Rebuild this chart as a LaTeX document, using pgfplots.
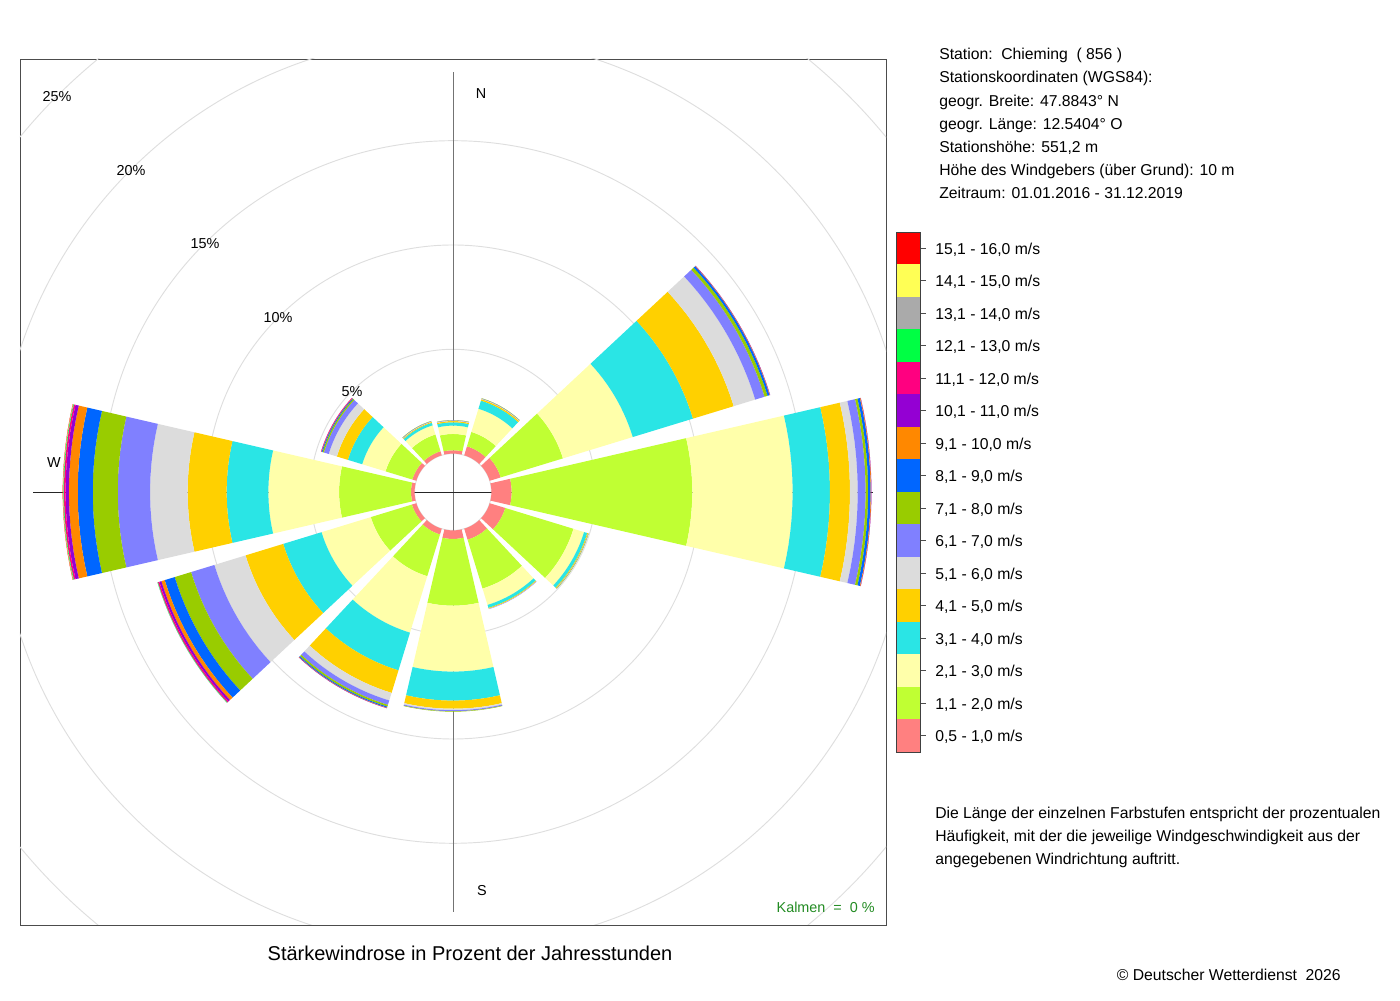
\documentclass[border=0pt]{standalone}
\usepackage{fontspec}
\setmainfont{Liberation Sans}
\usepackage{pgfplots}
\usepackage{pgfplotstable}
\pgfplotsset{compat=1.18}

\definecolor{wc1}{HTML}{FF8080}
\definecolor{wc2}{HTML}{C0FF33}
\definecolor{wc3}{HTML}{FFFFAA}
\definecolor{wc4}{HTML}{2AE5E5}
\definecolor{wc5}{HTML}{FFD000}
\definecolor{wc6}{HTML}{DCDCDC}
\definecolor{wc7}{HTML}{8080FF}
\definecolor{wc8}{HTML}{99CC00}
\definecolor{wc9}{HTML}{0066FF}
\definecolor{wc10}{HTML}{FF8800}
\definecolor{wc11}{HTML}{9400D3}
\definecolor{wc12}{HTML}{FF0080}
\definecolor{wc13}{HTML}{00FF44}
\definecolor{wc14}{HTML}{AAAAAA}
\definecolor{wc15}{HTML}{FFFF55}
\definecolor{wc16}{HTML}{FF0000}
\definecolor{kalm}{HTML}{228B22}

% percent of hours per direction (rows) and speed class (columns b1 = 0,5-1,0 m/s ... b16 = 15,1-16,0 m/s)
\pgfplotstableread{
dir b1 b2 b3 b4 b5 b6 b7 b8 b9 b10 b11 b12 b13 b14 b15 b16
0   0.16 0.78 0.40 0.16 0.06 0.02 0.02 0.01 0 0 0 0 0 0 0 0
30  0.45 0.72 1.16 0.41 0.07 0.02 0.02 0.01 0 0 0 0 0 0 0 0
60  0.55 3.12 3.50 3.02 2.04 1.08 0.47 0.15 0.10 0.02 0.01 0 0 0 0 0
90  0.97 8.66 4.81 1.79 0.96 0.37 0.38 0.12 0.12 0.03 0.01 0 0 0 0 0
120 0.78 3.42 0.53 0.16 0.04 0.01 0.01 0.01 0 0 0 0 0 0 0 0
150 0.55 2.45 0.82 0.15 0.04 0.01 0.01 0 0 0 0 0 0 0 0 0
180 0.41 3.20 3.16 1.39 0.39 0.07 0.05 0.02 0 0 0 0 0 0 0 0
210 0.29 2.09 2.83 1.89 1.13 0.38 0.22 0.09 0.05 0.02 0.01 0 0 0 0 0
240 0.22 2.06 2.47 1.92 1.89 1.56 1.17 0.82 0.50 0.17 0.10 0.07 0.02 0.01 0 0
270 0.17 3.45 3.39 2.00 1.87 1.80 1.55 1.20 0.72 0.42 0.16 0.08 0.03 0.01 0.01 0.01
300 0.20 1.34 1.17 0.72 0.55 0.41 0.24 0.07 0.04 0.02 0.01 0.01 0 0 0 0
330 0.20 0.84 0.46 0.13 0.04 0.02 0.02 0.01 0 0 0 0 0 0 0 0
}\windtab

\def\hole{1.841}

% one band of a sector: #1 compass direction, #2 inner radius, #3 outer radius, #4 colour
\newcommand\addband[4]{%
  \gdef\bandcoords{}%
  \foreach \t in {-13,-11,...,13}{%
    \pgfmathsetmacro\ang{90-#1-\t}%
    \xdef\bandcoords{\bandcoords(\ang,#3)}%
  }%
  \foreach \t in {13,11,...,-13}{%
    \pgfmathsetmacro\ang{90-#1-\t}%
    \xdef\bandcoords{\bandcoords(\ang,#2)}%
  }%
  \edef\next{\noexpand\addplot[fill=#4,draw=none,forget plot,data cs=polar] coordinates {\bandcoords};}%
  \next
}

\begin{document}
\begin{tikzpicture}[x=0.75pt,y=0.75pt]
\path (0,0) rectangle (1400,1000);
\begin{axis}[
  at={(15pt,56.25pt)}, anchor=south west,
  width=649.5pt, height=649.5pt, scale only axis,
  xmin=-20.757, xmax=20.757, ymin=-20.757, ymax=20.757,
  xtick=\empty, ytick=\empty,
  axis line style={black!70, line width=0.6pt},
]
% range circles (0, 5, 10, 15, 20, 25 %)
\draw[black!13, line width=0.7pt] (axis cs:0,0) circle[radius=6.841];
\draw[black!13, line width=0.7pt] (axis cs:0,0) circle[radius=11.841];
\draw[black!13, line width=0.7pt] (axis cs:0,0) circle[radius=16.841];
\draw[black!13, line width=0.7pt] (axis cs:0,0) circle[radius=21.841];
\draw[black!13, line width=0.7pt] (axis cs:0,0) circle[radius=26.841];
\draw[black!15, line width=0.6pt] (axis cs:0,0) circle[radius=1.841];
% cross
\draw[black!55, line width=0.7pt] (axis cs:0,-20.13) -- (axis cs:0,20.13);
\draw[black!85, line width=0.7pt] (axis cs:-20.13,0) -- (axis cs:20.13,0);
% sectors
\pgfplotstablegetrowsof{\windtab}
\pgfmathtruncatemacro\lastrow{\pgfplotsretval-1}
\foreach \row in {0,...,\lastrow}{%
  \pgfplotstablegetelem{\row}{dir}\of\windtab
  \edef\dir{\pgfplotsretval}%
  \xdef\cum{\hole}%
  \foreach \k in {1,...,16}{%
    \pgfplotstablegetelem{\row}{b\k}\of\windtab
    \ifdim\pgfplotsretval pt>0pt
      \pgfmathsetmacro\rnew{\cum+\pgfplotsretval}%
      \addband{\dir}{\cum}{\rnew}{wc\k}%
      \xdef\cum{\rnew}%
    \fi
  }%
}
\end{axis}

% direction and percent labels
\begin{scope}[font=\fontsize{10.8pt}{13pt}\selectfont]
\node at (481,906) {N};
\node at (482,109) {S};
\node at (54,537) {W};
\node at (57,903) {25\%};
\node at (131,829) {20\%};
\node at (205,756) {15\%};
\node at (278,682) {10\%};
\node at (352,608) {5\%};
\node[anchor=base east, inner sep=0pt, text=kalm] at (875,87) {Kalmen\ \ =\ \ 0 \%};
\end{scope}

% title
\node[anchor=base, inner sep=0pt, font=\fontsize{15pt}{18pt}\selectfont] at (470,40) {Stärkewindrose in Prozent der Jahresstunden};

% station information
\begin{scope}[font=\fontsize{11.8pt}{14pt}\selectfont, every node/.style={inner sep=0pt}]
\node[anchor=base west] at (939,940) {Station:\ \ Chieming\ \ ( 856 )};
\node[anchor=base west] at (939,917) {Stationskoordinaten (WGS84):};
\node[anchor=base west] at (939,893) {geogr. Breite: 47.8843° N};
\node[anchor=base west] at (939,870) {geogr. Länge: 12.5404° O};
\node[anchor=base west] at (939,847) {Stationshöhe: 551,2 m};
\node[anchor=base west] at (939,824) {Höhe des Windgebers (über Grund): 10 m};
\node[anchor=base west] at (939,801) {Zeitraum: 01.01.2016 - 31.12.2019};

% colour bar
\foreach \i [evaluate=\i as \c using int(16-\i)] in {0,...,15}{%
  \fill[wc\c] (896,{768-32.5*(\i+1)}) rectangle (920.7,{768-32.5*\i});
  \draw[black!70, line width=0.6pt] (920.7,{751.75-32.5*\i}) -- (925.5,{751.75-32.5*\i});
}
\draw[black!75, line width=0.6pt] (896,248) rectangle (920.7,768);
\node[anchor=base west] at (935,745.5) {15,1 - 16,0 m/s};
\node[anchor=base west] at (935,713.0) {14,1 - 15,0 m/s};
\node[anchor=base west] at (935,680.5) {13,1 - 14,0 m/s};
\node[anchor=base west] at (935,648.0) {12,1 - 13,0 m/s};
\node[anchor=base west] at (935,615.5) {11,1 - 12,0 m/s};
\node[anchor=base west] at (935,583.0) {10,1 - 11,0 m/s};
\node[anchor=base west] at (935,550.5) {9,1 - 10,0 m/s};
\node[anchor=base west] at (935,518.0) {8,1 - 9,0 m/s};
\node[anchor=base west] at (935,485.5) {7,1 - 8,0 m/s};
\node[anchor=base west] at (935,453.0) {6,1 - 7,0 m/s};
\node[anchor=base west] at (935,420.5) {5,1 - 6,0 m/s};
\node[anchor=base west] at (935,388.0) {4,1 - 5,0 m/s};
\node[anchor=base west] at (935,355.5) {3,1 - 4,0 m/s};
\node[anchor=base west] at (935,323.0) {2,1 - 3,0 m/s};
\node[anchor=base west] at (935,290.5) {1,1 - 2,0 m/s};
\node[anchor=base west] at (935,258.0) {0,5 - 1,0 m/s};

% explanation
\node[anchor=base west] at (935,181) {Die Länge der einzelnen Farbstufen entspricht der prozentualen};
\node[anchor=base west] at (935,158) {Häufigkeit, mit der die jeweilige Windgeschwindigkeit aus der};
\node[anchor=base west] at (935,135) {angegebenen Windrichtung auftritt.};
\node[anchor=base east] at (1341,19) {© Deutscher Wetterdienst\ \ 2026};
\end{scope}
\end{tikzpicture}
\end{document}
